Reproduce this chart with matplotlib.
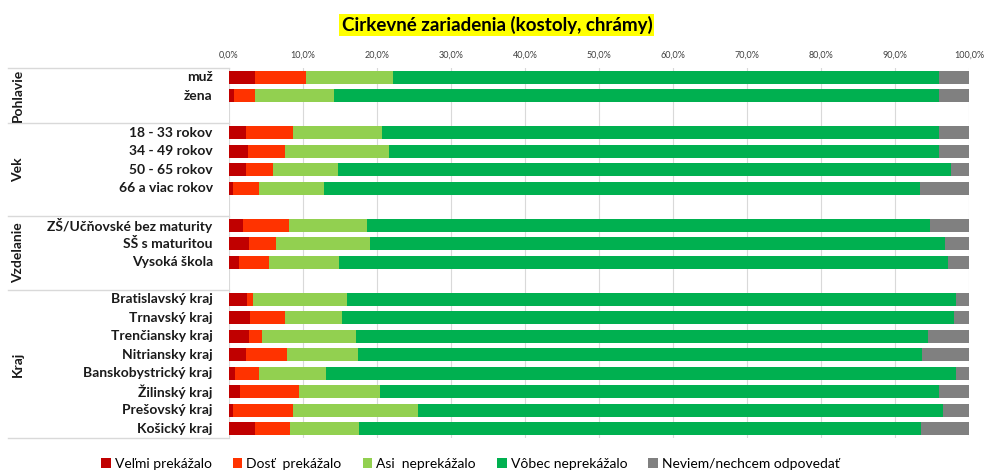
import numpy as np
import matplotlib.pyplot as plt
from matplotlib.patches import Patch
from matplotlib.ticker import FuncFormatter
import matplotlib.transforms as mtransforms

plt.rcParams['font.family'] = ['Lato', 'DejaVu Sans']

#------------------------------------------------------data (percent)
groups = ["Pohlavie", "Vek", "Vzdelanie", "Kraj"]
categories = [
    ["muž", "žena"],
    ["18 - 33 rokov", "34 - 49 rokov", "50 - 65 rokov", "66 a viac rokov"],
    ["ZŠ/Učňovské bez maturity", "SŠ s maturitou", "Vysoká škola"],
    ["Bratislavský kraj", "Trnavský kraj", "Trenčiansky kraj", "Nitriansky kraj",
     "Banskobystrický kraj", "Žilinský kraj", "Prešovský kraj", "Košický kraj"],
]
series_names = ["Veľmi prekážalo", "Dosť  prekážalo", "Asi  neprekážalo",
                "Vôbec neprekážalo", "Neviem/nechcem odpovedať"]
velmi = [3.5, 0.7, 2.3, 2.5, 2.3, 0.5, 1.9, 2.7, 1.3, 2.4, 2.9, 2.7, 2.3, 0.8, 1.5, 0.6, 3.5]
dost = [6.9, 2.8, 6.4, 5.0, 3.7, 3.6, 6.2, 3.6, 4.1, 0.9, 4.7, 1.8, 5.5, 3.3, 7.9, 8.1, 4.8]
asi = [11.7, 10.7, 12.0, 14.1, 8.7, 8.8, 10.6, 12.8, 9.5, 12.6, 7.7, 12.6, 9.6, 9.0, 11.0, 16.9, 9.3]
vobec = [73.9, 81.8, 75.3, 74.3, 82.9, 80.5, 76.0, 77.7, 82.2, 82.3, 82.7, 77.4, 76.2, 85.1, 75.5, 70.9, 75.9]
neviem = [4.0, 4.0, 4.0, 4.1, 2.4, 6.6, 5.3, 3.2, 2.9, 1.8, 2.0, 5.5, 6.4, 1.8, 4.1, 3.5, 6.5]
colors = ["#C00000", "#FF3300", "#92D050", "#00B050", "#808080"]

#------------------------------------------------------row positions (one empty row between groups)
positions = []
group_spans = []
row = 0
for cats in categories:
    start = row
    for c in cats:
        positions.append(row)
        row += 1
    group_spans.append((start, row - 1))
    row += 1
n_slots = row - 1

fig = plt.figure(figsize=(9.84, 4.71), dpi=100)
ax = fig.add_axes([229/984, 1 - 438/471, (969 - 229)/984, (438 - 68)/471])

values = np.array([velmi, dost, asi, vobec, neviem])
left = np.zeros(len(positions))
for vals, col, name in zip(values, colors, series_names):
    ax.barh(positions, vals, left=left, color=col, height=0.72, label=name, zorder=3)
    left += vals

ax.set_xlim(0, 100)
ax.set_ylim(n_slots - 0.5, -0.5)
ax.set_xticks(np.arange(0, 101, 10))
ax.xaxis.set_major_formatter(FuncFormatter(lambda v, p: f"{v:.1f}%".replace(".", ",")))
ax.xaxis.tick_top()
ax.tick_params(axis="x", length=0, labelsize=6.5, labelcolor="#404040", pad=6)
ax.set_yticks([])
ax.grid(axis="x", color="#D9D9D9", linewidth=0.8, zorder=0)
for s in ax.spines.values():
    s.set_visible(False)

#------------------------------------------------------multi-level category labels
trans = mtransforms.blended_transform_factory(ax.transAxes, ax.transData)
x_left = (8 - 229) / 740
flat = [c for cats in categories for c in cats]
for pos, lab in zip(positions, flat):
    ax.text(-0.022, pos, lab, transform=trans, ha="right", va="center",
            fontsize=10, fontweight="bold", color="#1a1a1a")
seps = [a - 0.5 for (a, b) in group_spans] + [n_slots - 0.5]
for g, y0, y1 in zip(groups, seps[:-1], seps[1:]):
    ax.text((18 - 229) / 740, (y0 + y1) / 2, g, transform=trans, rotation=90,
            ha="center", va="center", fontsize=10, fontweight="bold", color="#1a1a1a")
for y in seps:
    ax.plot([x_left, 0], [y, y], transform=trans, color="#D9D9D9",
            linewidth=1, clip_on=False)

#------------------------------------------------------title and legend
fig.text(0.505, 0.947, "Cirkevné zariadenia (kostoly, chrámy)", ha="center", va="center",
         fontsize=13.5, fontweight="bold",
         bbox=dict(facecolor="#FFFF00", edgecolor="none", pad=1.5))
handles = [Patch(facecolor=c, label=n) for c, n in zip(colors, series_names)]
fig.legend(handles=handles, loc="center", bbox_to_anchor=(0.478, 0.015), ncol=5,
           frameon=False, fontsize=10, handlelength=0.7, handleheight=0.7,
           handletextpad=0.3, columnspacing=1.5)

fig.savefig("out.png", dpi=100)
